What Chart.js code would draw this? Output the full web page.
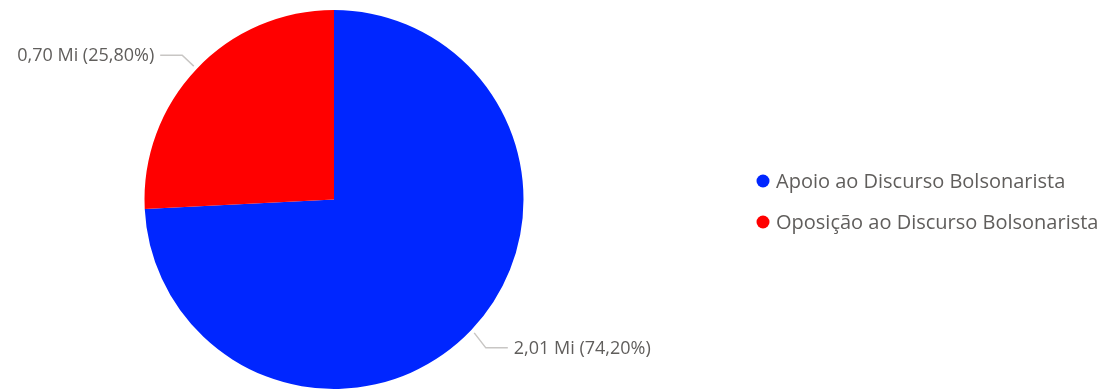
<!DOCTYPE html>
<html>
<head>
<meta charset="utf-8">
<script src="https://cdn.jsdelivr.net/npm/chart.js@4/dist/chart.umd.min.js"></script>
<style>
  html, body { margin: 0; padding: 0; background: #fff; }
  #wrap { width: 1113px; height: 390px; position: relative; }
</style>
</head>
<body>
<div id="wrap"><canvas id="pieChart"></canvas></div>
<script>
// --- datos ---
const categories = ['Apoio ao Discurso Bolsonarista', 'Oposição ao Discurso Bolsonarista'];
const valuesMi = [2.01, 0.70];      // millones
const shares = [74.20, 25.80];      // porcentaje
const sliceColors = ['#0026FF', '#FF0000'];

const FONT = '"Open Sans", sans-serif';
const TEXT_COLOR = '#605E5C';

function fmt(v, d) {
    return v.toFixed(d).replace('.', ',');
}

// etiquetas con línea guía
const leaderLabels = {
    id: 'leaderLabels',
    afterDatasetsDraw(chart) {
        const ctx = chart.ctx;
        const arcs = chart.getDatasetMeta(0).data;
        ctx.save();
        ctx.font = '18px ' + FONT;
        ctx.textBaseline = 'middle';
        arcs.forEach((arc, i) => {
            const mid = (arc.startAngle + arc.endAngle) / 2;
            const dx = Math.cos(mid), dy = Math.sin(mid);
            const r = arc.outerRadius;
            const x1 = arc.x + dx * (r + 4), y1 = arc.y + dy * (r + 4);
            const x2 = arc.x + dx * (r + 20), y2 = arc.y + dy * (r + 20) + (dy > 0 ? 4 : 0);
            const side = dx >= 0 ? 1 : -1;
            const x3 = x2 + side * 22;
            ctx.strokeStyle = '#C8C6C4';
            ctx.lineWidth = 1.5;
            ctx.beginPath();
            ctx.moveTo(x1, y1);
            ctx.lineTo(x2, y2);
            ctx.lineTo(x3, y2);
            ctx.stroke();
            ctx.fillStyle = TEXT_COLOR;
            ctx.textAlign = side > 0 ? 'left' : 'right';
            const txt = fmt(valuesMi[i], 2) + ' Mi (' + fmt(shares[i], 2) + '%)';
            ctx.fillText(txt, x3 + side * 6, y2 + 1);
        });
        ctx.restore();
    }
};

// leyenda a la derecha
const sideLegend = {
    id: 'sideLegend',
    afterDraw(chart) {
        const ctx = chart.ctx;
        const colors = chart.data.datasets[0].backgroundColor;
        ctx.save();
        ctx.font = '20px ' + FONT;
        ctx.textBaseline = 'middle';
        ctx.textAlign = 'left';
        chart.data.labels.forEach((lab, i) => {
            const y = 181 + i * 41;
            ctx.fillStyle = colors[i];
            ctx.beginPath();
            ctx.arc(763, y, 6.5, 0, Math.PI * 2);
            ctx.fill();
            ctx.fillStyle = TEXT_COLOR;
            ctx.fillText(lab, 776, y + 1);
        });
        ctx.restore();
    }
};

const ctx = document.getElementById('pieChart').getContext('2d');
new Chart(ctx, {
    type: 'pie',
    data: {
        labels: categories,
        datasets: [{
            data: shares,
            backgroundColor: sliceColors,
            borderWidth: 0
        }]
    },
    options: {
        responsive: true,
        maintainAspectRatio: false,
        animation: false,
        layout: { padding: { top: 10, bottom: 1, left: 0, right: 445 } },
        plugins: {
            legend: { display: false },
            tooltip: { enabled: false }
        }
    },
    plugins: [leaderLabels, sideLegend]
});
</script>
</body>
</html>
